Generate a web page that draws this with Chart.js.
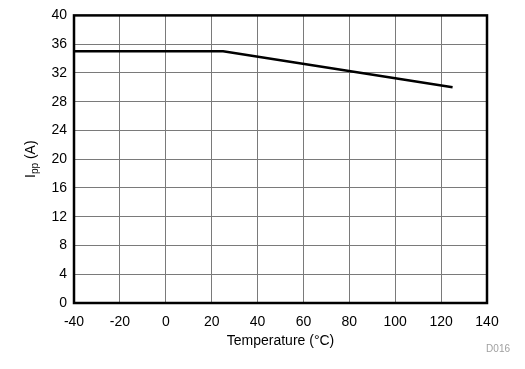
<!DOCTYPE html>
<html>
<head>
<meta charset="utf-8">
<script src="https://cdn.jsdelivr.net/npm/chart.js@4/dist/chart.umd.min.js"></script>
<style>
  html, body { margin: 0; padding: 0; background: #fff; }
  #wrap { width: 525px; height: 369px; }
</style>
</head>
<body>
<div id="wrap"><canvas id="cht"></canvas></div>
<script>
var temps = [-40, 25, 125];
var ipp = [35, 35, 30];
var xTicks = [-40, -20, 0, 20, 40, 60, 80, 100, 120, 140];
var yTicks = [0, 4, 8, 12, 16, 20, 24, 28, 32, 36, 40];

var font = "'Liberation Sans', Arial, sans-serif";

var frame = {
    id: 'frame',
    afterDraw: function (chart) {
        var c = chart.ctx, a = chart.chartArea;
        c.save();
        c.strokeStyle = '#000';
        c.lineWidth = 2.5;
        c.strokeRect(a.left, a.top, a.right - a.left, a.bottom - a.top);

        // y axis title with subscript
        c.fillStyle = '#000';
        c.translate(35, (a.top + a.bottom) / 2);
        c.rotate(-Math.PI / 2);
        c.textBaseline = 'alphabetic';
        c.font = '14px ' + font;
        var w1 = c.measureText('I').width;
        c.font = '10px ' + font;
        var w2 = c.measureText('pp').width;
        c.font = '14px ' + font;
        var w3 = c.measureText(' (A)').width;
        var x = -(w1 + w2 + w3) / 2;
        c.fillText('I', x, 0);
        c.font = '10px ' + font;
        c.fillText('pp', x + w1, 3);
        c.font = '14px ' + font;
        c.fillText(' (A)', x + w1 + w2, 0);
        c.restore();

        c.save();
        c.fillStyle = '#a0a0a0';
        c.font = '10px ' + font;
        c.textAlign = 'right';
        c.textBaseline = 'middle';
        c.fillText('D016', 510, 349);
        c.restore();
    }
};

var data = [];
for (var i = 0; i < temps.length; i++) data.push({ x: temps[i], y: ipp[i] });

new Chart(document.getElementById('cht'), {
    type: 'scatter',
    data: {
        datasets: [{
            data: data,
            showLine: true,
            borderColor: '#000',
            borderWidth: 2.5,
            pointRadius: 0,
            fill: false
        }]
    },
    options: {
        responsive: true,
        maintainAspectRatio: false,
        animation: false,
        layout: { padding: { left: 0, right: 38, top: 12, bottom: 19 } },
        plugins: { legend: { display: false }, tooltip: { enabled: false } },
        scales: {
            x: {
                type: 'linear',
                min: -40, max: 140,
                afterBuildTicks: function (s) { s.ticks = xTicks.map(function (v) { return { value: v }; }); },
                afterFit: function (s) { s.height = 47; },
                grid: { color: '#7a7a7a', lineWidth: 1, drawTicks: false },
                border: { display: false },
                ticks: { color: '#000', font: { family: font, size: 14 }, padding: 11, maxRotation: 0 },
                title: { display: true, text: 'Temperature (°C)', color: '#000', font: { family: font, size: 14 }, padding: { top: 1, bottom: 0 } }
            },
            y: {
                min: 0, max: 40,
                afterBuildTicks: function (s) { s.ticks = yTicks.map(function (v) { return { value: v }; }); },
                afterFit: function (s) { s.width = 74; },
                grid: { color: '#7a7a7a', lineWidth: 1, drawTicks: false },
                border: { display: false },
                ticks: { color: '#000', font: { family: font, size: 14 }, padding: 7 }
            }
        }
    },
    plugins: [frame]
});
</script>
</body>
</html>
